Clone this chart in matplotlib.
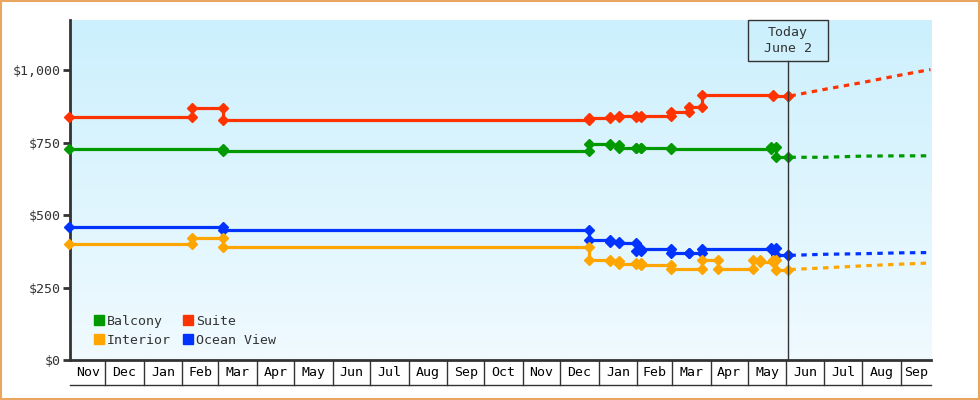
import numpy as np
import pandas as pd
import matplotlib
matplotlib.use("Agg")
import matplotlib.pyplot as plt
import matplotlib.dates as mdates
import matplotlib.transforms as mtransforms
from matplotlib.colors import LinearSegmentedColormap
from matplotlib.patches import Rectangle, Patch

# price history, one list per cabin type (date of observation, price after it)
suite_dates = ['2023-11-02', '2024-02-09', '2024-03-05', '2024-12-24', '2025-01-10', '2025-01-17', '2025-01-31',
               '2025-02-04', '2025-02-28', '2025-03-15', '2025-03-25', '2025-05-21', '2025-06-02']
suite_prices = [838, 870, 828, 836, 840, 841, 840, 841, 857, 873, 915, 913, 910]

balcony_dates = ['2023-11-02', '2024-03-05', '2024-12-24', '2025-01-10', '2025-01-17', '2025-01-31', '2025-02-04',
                 '2025-02-28', '2025-05-20', '2025-05-24', '2025-06-02']
balcony_prices = [727, 721, 746, 741, 733, 732, 733, 728, 735, 700, 700]

interior_dates = ['2023-11-02', '2024-02-09', '2024-03-05', '2024-12-24', '2025-01-10', '2025-01-17', '2025-01-31',
                  '2025-02-04', '2025-02-28', '2025-03-25', '2025-04-07', '2025-05-05', '2025-05-11', '2025-05-21',
                  '2025-05-24', '2025-06-02']
interior_prices = [402, 421, 390, 346, 343, 331, 334, 329, 314, 346, 314, 346, 339, 345, 312, 312]

ocean_dates = ['2023-11-02', '2024-03-05', '2024-12-24', '2025-01-10', '2025-01-17', '2025-01-31', '2025-02-04',
               '2025-02-28', '2025-03-15', '2025-03-25', '2025-05-20', '2025-05-24', '2025-06-02']
ocean_prices = [459, 450, 415, 408, 404, 376, 383, 370, 368, 384, 388, 364, 361]

# forecast after today
forecast_dates = ['2025-06-02', '2025-07-01', '2025-08-01', '2025-09-01', '2025-09-25']
suite_forecast = [910, 934, 958, 984, 1003]
balcony_forecast = [700, 700, 704, 705, 705]
interior_forecast = [312, 318, 325, 331, 335]
ocean_forecast = [361, 365, 367, 370, 371]

series_names = ['Balcony', 'Interior', 'Suite', 'Ocean View']
series_colors = ['#009900', '#ffa500', '#ff3300', '#0033ff']

today = '2025-06-02'
today_label = 'Today\nJune 2'
x_start = '2023-11-02 14:00'
x_end = '2025-09-25 10:00'
y_ticks = [0, 250, 500, 750, 1000]

FONT = 'DejaVu Sans Mono'
DARK = '#333333'


def draw_history(ax, dates, prices, color):
    d = pd.to_datetime(dates)
    ax.step(d, prices, where='post', color=color, lw=2.3, zorder=3, clip_on=False)
    # marker at the new price, and at the old one when the price changed
    mx, my = [], []
    for i in range(len(d)):
        mx.append(d[i])
        my.append(prices[i])
        if i > 0 and prices[i] != prices[i - 1]:
            mx.append(d[i])
            my.append(prices[i - 1])
    ax.plot(mx, my, ls='none', marker='D', ms=5.5, color=color, mec=color, zorder=4, clip_on=False)


def draw_forecast(ax, values, color):
    ax.plot(pd.to_datetime(forecast_dates), values, color=color, lw=2.3, ls=(2.5, (1.7, 1.7)),
            dash_capstyle='butt', zorder=3)


def month_boxes(ax):
    # month names under the axis, each in its own cell
    x0, x1 = pd.Timestamp(x_start), pd.Timestamp(x_end)
    trans = mtransforms.blended_transform_factory(ax.transData, ax.transAxes)
    h = 25 / 340
    bounds = pd.date_range(x0.normalize() + pd.offsets.MonthBegin(1), x1, freq='MS')
    for b in bounds:
        ax.plot([b, b], [0, -h], color=DARK, lw=1, transform=trans, clip_on=False)
    ax.plot([0, 1], [-h, -h], color=DARK, lw=1, transform=ax.transAxes, clip_on=False)
    edges = [x0] + list(bounds) + [x1]
    for a, b in zip(edges[:-1], edges[1:]):
        mid = a + (b - a) / 2
        ax.text(mid, -h / 2, a.strftime('%b'), transform=trans, ha='center', va='center',
                fontsize=9.5, family=FONT, color='black')


def main():
    fig = plt.figure(figsize=(9.8, 4), dpi=100)
    ax = fig.add_axes([70 / 980, 40 / 400, 861 / 980, 340 / 400])

    # orange border round the picture
    fig.patches.append(Rectangle((0.001, 0.002), 0.998, 0.996, transform=fig.transFigure, fill=False,
                                 ec='#e9a660', lw=1.5))

    # background gradient
    cmap = LinearSegmentedColormap.from_list('bg', ['#f0faff', '#ccf0fd'])
    ax.imshow(np.linspace(0, 1, 256).reshape(-1, 1), cmap=cmap, origin='lower', aspect='auto',
              extent=[0, 1, 0, 1], transform=ax.transAxes, zorder=0)

    draw_history(ax, suite_dates, suite_prices, series_colors[2])
    draw_history(ax, balcony_dates, balcony_prices, series_colors[0])
    draw_history(ax, ocean_dates, ocean_prices, series_colors[3])
    draw_history(ax, interior_dates, interior_prices, series_colors[1])
    draw_forecast(ax, suite_forecast, series_colors[2])
    draw_forecast(ax, balcony_forecast, series_colors[0])
    draw_forecast(ax, ocean_forecast, series_colors[3])
    draw_forecast(ax, interior_forecast, series_colors[1])

    ax.set_xlim(pd.Timestamp(x_start), pd.Timestamp(x_end))
    ax.set_ylim(0, 1174)

    # today marker line and box
    t = pd.Timestamp(today)
    trans = mtransforms.blended_transform_factory(ax.transData, ax.transAxes)
    box_h = 41 / 340
    days_per_px = (pd.Timestamp(x_end) - pd.Timestamp(x_start)) / 861
    box_w = days_per_px * 80
    ax.plot([t, t], [0, 1 - box_h], color=DARK, lw=1, transform=trans, zorder=5)
    ax.add_patch(Rectangle((mdates.date2num(t - box_w / 2), 1 - box_h), mdates.date2num(t + box_w / 2) - mdates.date2num(t - box_w / 2),
                           box_h, transform=trans, fill=False, ec=DARK, lw=1, zorder=5, clip_on=False))
    ax.text(t, 1 - box_h / 2, today_label, transform=trans, ha='center', va='center', fontsize=9.5,
            family=FONT, color=DARK, linespacing=1.35, zorder=6)

    # axes
    for s in ['top', 'right']:
        ax.spines[s].set_visible(False)
    for s in ['left', 'bottom']:
        ax.spines[s].set_color(DARK)
        ax.spines[s].set_linewidth(2)
    ax.set_xticks([])
    ax.set_yticks(y_ticks)
    ax.set_yticklabels([f'${v:,}' for v in y_ticks], family=FONT, fontsize=9.5, color=DARK)
    ax.tick_params(axis='y', length=5, width=2, color=DARK, pad=1.5)
    month_boxes(ax)

    # legend
    handles = [Patch(fc=c, ec=c) for c in series_colors]
    leg = ax.legend(handles, series_names, ncol=2, loc='lower left', bbox_to_anchor=(0.02, 0.02),
                    frameon=False, handlelength=0.8, handleheight=0.8, handletextpad=0.2,
                    columnspacing=0.9, labelspacing=0.45, borderpad=0,
                    prop={'family': FONT, 'size': 9.5})
    for txt in leg.get_texts():
        txt.set_color(DARK)

    fig.savefig('out.png', dpi=100)
    plt.close(fig)


if __name__ == "__main__":
    main()
